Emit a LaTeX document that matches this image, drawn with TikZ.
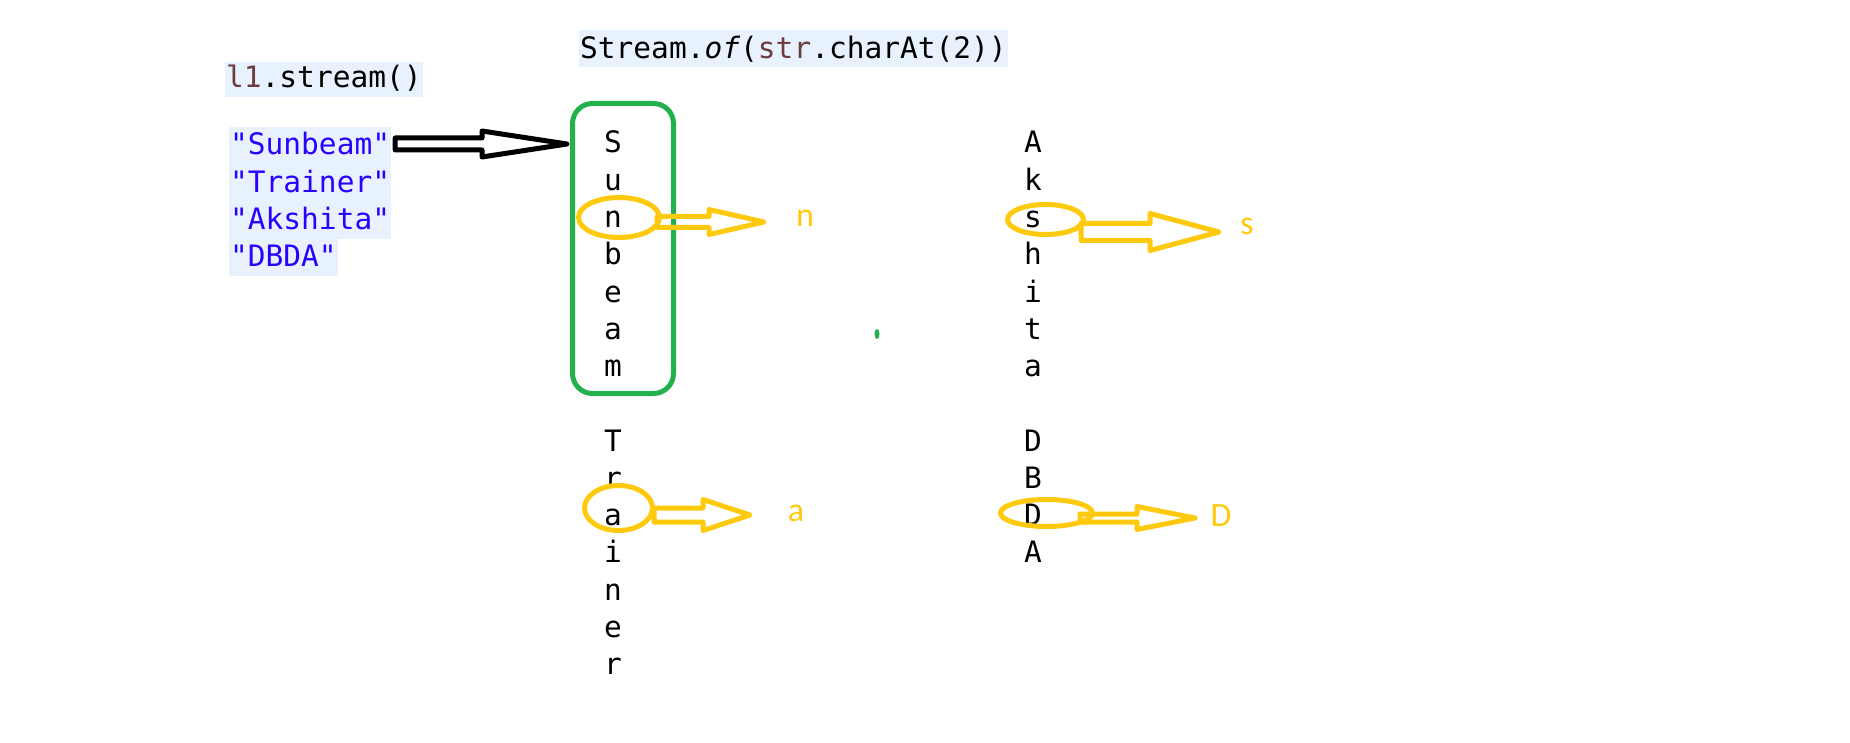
\documentclass[tikz,border=0pt]{standalone}
\usepackage{fontspec}
\setmonofont{DejaVu Sans Mono}
\newfontfamily\labelfont{Carlito}
\usetikzlibrary{shapes}
\usetikzlibrary{calc}

\definecolor{hl}{RGB}{232,242,254}
\definecolor{strblue}{RGB}{42,0,255}
\definecolor{varbrown}{RGB}{106,62,62}
\definecolor{pgreen}{RGB}{34,177,76}
\definecolor{gold}{RGB}{255,201,14}

% hollow block arrow: style, from, to, half shaft, half head, head length
\newcommand{\blockarrow}[6]{%
  \draw[#1] let \p1=(#2), \p2=(#3) in
    (\x1,\y2+#4pt) -- (\x2-#6pt,\y2+#4pt) -- (\x2-#6pt,\y2+#5pt) -- (\p2)
    -- (\x2-#6pt,\y2-#5pt) -- (\x2-#6pt,\y2-#4pt) -- (\x1,\y2-#4pt) -- cycle;}

\begin{document}
\begin{tikzpicture}[x=1pt, y=-1pt,
  code/.style={font=\ttfamily\fontsize{29.5}{35}\selectfont, fill=hl,
    inner xsep=1pt, inner ysep=0pt, anchor=base west},
  strline/.style={code, text=strblue, text height=28pt, text depth=9.25pt},
  letter/.style={font=\ttfamily\fontsize{29.5}{35}\selectfont, inner sep=0pt, anchor=base},
  pick/.style={draw=gold, line width=5pt, ellipse, inner sep=0pt},
  fat/.style={line width=5pt, line join=round},
  result/.style={font=\labelfont\fontsize{34}{40}\selectfont, text=gold, inner sep=0pt, anchor=base}]
  \useasboundingbox (0,0) rectangle (1850,743);

  \node[code, text height=29pt, text depth=8pt] (mapcall) at (579,59)
    {Stream.\textit{of}(\textcolor{varbrown}{str}.charAt(2))};
  \node[code, text height=26pt, text depth=9pt] (streamcall) at (225,88)
    {\textcolor{varbrown}{l1}.stream()};

  \node[strline] (sunbeam) at (229,155) {"Sunbeam"};
  \node[strline] (trainer) at (229,192.25) {"Trainer"};
  \node[strline] (akshita) at (229,229.5) {"Akshita"};
  \node[strline] (dbda) at (229,266.75) {"DBDA"};

  % letters of each string
  \foreach \c [count=\i from 0] in {S,u,n,b,e,a,m}
    \node[letter] (s\i) at (613,153+37.25*\i) {\c};
  \foreach \c [count=\i from 0] in {T,r,a,i,n,e,r}
    \node[letter] (t\i) at (613,451+37.25*\i) {\c};
  \foreach \c [count=\i from 0] in {A,k,s,h,i,t,a}
    \node[letter] (k\i) at (1033,153+37.25*\i) {\c};
  \foreach \c [count=\i from 0] in {D,B,D,A}
    \node[letter] (d\i) at (1033,451+37.25*\i) {\c};

  \node[draw=pgreen, line width=5pt, rounded corners=20pt, inner sep=0pt,
    minimum width=101, minimum height=290] (box) at (623,248.5) {};
  \node[fill=pgreen, ellipse, inner sep=0pt, minimum width=5, minimum height=10] (dot) at (877,334) {};

  \coordinate (boxtip) at (567,144);
  \blockarrow{draw=black, fat}{[xshift=4pt]sunbeam.east}{boxtip}{6}{13}{85}

  \node[pick, minimum width=81, minimum height=40] (pn) at (619,217.5) {};
  \node[pick, minimum width=76, minimum height=30] (ps) at (1045.5,219.5) {};
  \node[pick, minimum width=68, minimum height=45] (pa) at (618.5,508) {};
  \node[pick, minimum width=92, minimum height=27] (pd) at (1046.5,513) {};

  \coordinate (tn) at (764,222);
  \coordinate (ts) at (1219,232);
  \coordinate (ta) at (750,515);
  \coordinate (td) at (1195,518);

  \blockarrow{draw=gold, fat}{[xshift=-5pt]pn.east}{tn}{5.5}{12.5}{55}
  \blockarrow{draw=gold, fat}{[xshift=-5pt]ps.east}{ts}{8.5}{18.5}{69}
  \blockarrow{draw=gold, fat}{[xshift=-1pt]pa.east}{ta}{7}{15.5}{47}
  \blockarrow{draw=gold, fat}{[xshift=-15pt]pd.east}{td}{4}{11.5}{58}

  \node[result] (rn) at (805,227) {n};
  \node[result] (rs) at (1247,235) {s};
  \node[result] (ra) at (796,521) {a};
  \node[result] (rd) at (1221,526) {D};
\end{tikzpicture}
\end{document}
